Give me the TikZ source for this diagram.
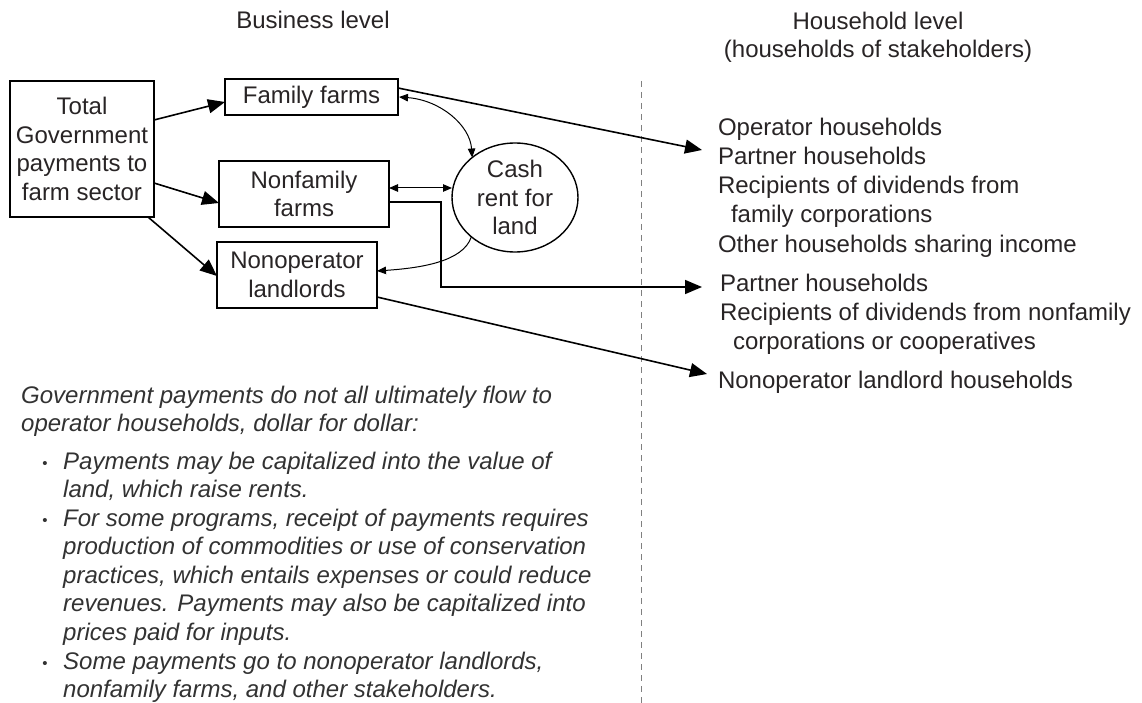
\documentclass[tikz,border=0pt]{standalone}
\usepackage{fontspec}
\setmainfont{Liberation Sans}
\usetikzlibrary{arrows.meta,shapes.geometric,calc}
\definecolor{ink}{RGB}{40,36,37}
\definecolor{note}{RGB}{50,50,50}
\begin{document}
\begin{tikzpicture}[x=1pt,y=-1pt,
  txt/.style={font=\fontsize{24}{28.6}\selectfont, text=ink, inner sep=0pt, outer sep=0pt},
  notetxt/.style={font=\fontsize{24}{28.6}\selectfont\itshape, text=note, inner sep=0pt, anchor=base west},
  dot/.style={font=\fontsize{15}{18}\selectfont, text=note, inner sep=0pt, anchor=base},
  hline/.style={txt, anchor=base west},
  box/.style={txt, draw=black, line width=1.4pt, align=center},
  flow/.style={draw=black, line width=1.6pt, -{Triangle[length=17pt,width=14pt]}},
  rent/.style={draw=black, line width=1pt, {Triangle[length=9pt,width=7.5pt]}-{Triangle[length=9pt,width=7.5pt]}},
  rentone/.style={draw=black, line width=1pt, -{Triangle[length=9pt,width=7.5pt]}},
  divider/.style={draw=gray, line width=0.9pt, dash pattern=on 6pt off 5pt}
]
\useasboundingbox (0,0) rectangle (1142,703);

% column headings
\node[txt, anchor=base] (hbus) at (313,29) {Business level};
\node[txt, anchor=base] (hhh1) at (878,30) {Household level};
\node[txt, anchor=base] (hhh2) at (878,58) {(households of stakeholders)};

% divider between business and household level
\coordinate (dtop) at (641,81);
\coordinate (dbot) at (641,703);
\draw[divider] (dtop) -- (dbot);

% business-level entities
\node[box, minimum width=144pt, minimum height=136pt] (tot) at (82,149) {Total\\Government\\payments to\\farm sector};
\node[box, minimum width=173pt, minimum height=36pt] (ff) at (311.5,97) {Family farms};
\node[box, minimum width=170pt, minimum height=66pt] (nf) at (304,194) {Nonfamily\\farms};
\node[box, minimum width=160pt, minimum height=66pt] (nl) at (297,275) {Nonoperator\\landlords};
\node[box, ellipse, minimum width=126pt, minimum height=109pt] (cash) at (515,197.5) {Cash\\rent for\\land};

% household-level recipients
\node[hline] (h1a) at (718,136) {Operator households};
\node[hline] (h1b) at (718,165) {Partner households};
\node[hline] (h1c) at (718,194) {Recipients of dividends from};
\node[hline] (h1d) at (731,223) {family corporations};
\node[hline] (h1e) at (718,252) {Other households sharing income};
\node[hline] (h2a) at (720,291) {Partner households};
\node[hline] (h2b) at (720,320) {Recipients of dividends from nonfamily};
\node[hline] (h2c) at (733,349) {corporations or cooperatives};
\node[hline] (h3a) at (718,388) {Nonoperator landlord households};

% arrow ends in front of each household group
\coordinate (t1) at (702,150);
\coordinate (t2) at (702,287);
\coordinate (t3) at (707,374);
\coordinate (elbow) at (441,287);

% payments to the farm sector
\draw[flow] ([yshift=29pt]tot.east) -- ([yshift=-5pt]ff.west);
\draw[flow] ([yshift=-34pt]tot.east) -- ([yshift=-9pt]nf.west);
\draw[flow] ([xshift=-6pt]tot.south east) -- ([yshift=-1pt]nl.west);

% flows on to households
\draw[flow] ([yshift=9pt]ff.east) -- (t1);
\draw[flow, line join=miter] ([yshift=-8pt]nf.east) -| (elbow) -- (t2);
\draw[flow] ([yshift=-22pt]nl.east) -- (t3);

% cash rent exchanges
\coordinate (nfr) at ([yshift=6pt]nf.east);
\draw[rent] ([xshift=1pt]ff.east) .. controls (440,100) and (470,125) .. (cash.137);
\draw[rent] (nfr) -- (nfr -| cash.west);
\draw[rentone] (cash.222) .. controls (463,262) and (420,268) .. ([yshift=4pt]nl.east);

% explanatory note
\node[notetxt] (n0) at (21,403) {Government payments do not all ultimately flow to};
\node[notetxt] (n1) at (21,431.5) {operator households, dollar for dollar:};
\node[dot] (b1) at (45,468) {\textbullet};
\node[notetxt] (n2) at (63,469) {Payments may be capitalized into the value of};
\node[notetxt] (n3) at (63,497.5) {land, which raise rents.};
\node[dot] (b2) at (45,525) {\textbullet};
\node[notetxt] (n4) at (63,526) {For some programs, receipt of payments requires};
\node[notetxt] (n5) at (63,554.5) {production of commodities or use of conservation};
\node[notetxt] (n6) at (63,583) {practices, which entails expenses or could reduce};
\node[notetxt] (n7) at (63,611.5) {revenues. Payments may also be capitalized into};
\node[notetxt] (n8) at (63,640) {prices paid for inputs.};
\node[dot] (b3) at (45,668) {\textbullet};
\node[notetxt] (n9) at (63,669) {Some payments go to nonoperator landlords,};
\node[notetxt] (n10) at (63,697.5) {nonfamily farms, and other stakeholders.};
\end{tikzpicture}
\end{document}
